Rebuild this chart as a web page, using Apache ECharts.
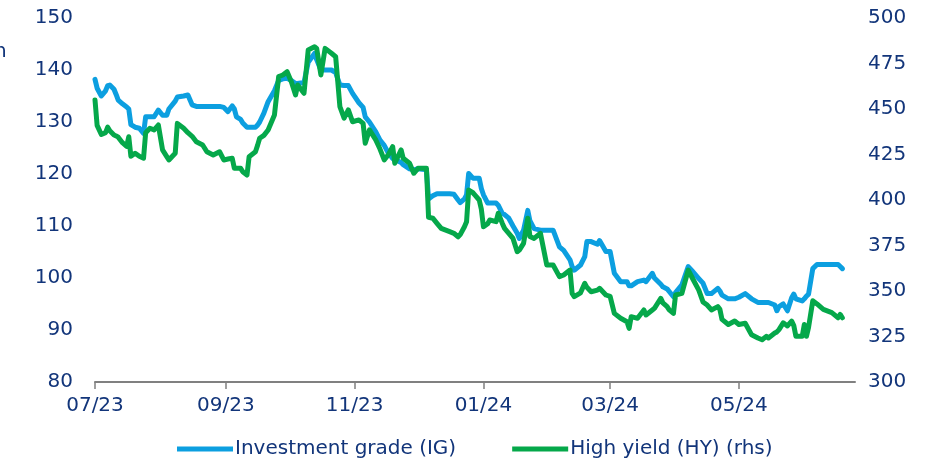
<!DOCTYPE html>
<html>
<head>
<meta charset="utf-8">
<script src="https://cdn.jsdelivr.net/npm/echarts@6/dist/echarts.min.js"></script>
<style>
  html, body { margin: 0; padding: 0; background: #fff; }
  #main { width: 932px; height: 461px; }
</style>
</head>
<body>
<div id="main"></div>
<script>
const dates = [
  '2023-07-01','2023-07-02','2023-07-04','2023-07-06','2023-07-07','2023-07-08','2023-07-10','2023-07-11','2023-07-12','2023-07-14',
  '2023-07-16','2023-07-17','2023-07-18','2023-07-20','2023-07-22','2023-07-24','2023-07-25','2023-07-27','2023-07-29','2023-07-31',
  '2023-08-02','2023-08-04','2023-08-05','2023-08-08','2023-08-09','2023-08-12','2023-08-14','2023-08-16','2023-08-18','2023-08-21',
  '2023-08-23','2023-08-26','2023-08-29','2023-08-31','2023-09-02','2023-09-04','2023-09-05','2023-09-06','2023-09-08','2023-09-09',
  '2023-09-11','2023-09-12','2023-09-15','2023-09-16','2023-09-17','2023-09-19','2023-09-21','2023-09-24','2023-09-26','2023-09-28',
  '2023-09-30','2023-10-02','2023-10-04','2023-10-05','2023-10-08','2023-10-10','2023-10-13','2023-10-14','2023-10-16','2023-10-18',
  '2023-10-21','2023-10-23','2023-10-25','2023-10-27','2023-10-29','2023-10-31','2023-11-03','2023-11-05','2023-11-06','2023-11-08',
  '2023-11-11','2023-11-13','2023-11-15','2023-11-17','2023-11-19','2023-11-20','2023-11-23','2023-11-24','2023-11-27','2023-11-29',
  '2023-12-01','2023-12-05','2023-12-06','2023-12-08','2023-12-10','2023-12-12','2023-12-16','2023-12-18','2023-12-20','2023-12-21',
  '2023-12-23','2023-12-24','2023-12-25','2023-12-27','2023-12-28','2023-12-30','2023-12-31','2024-01-01','2024-01-03','2024-01-04',
  '2024-01-07','2024-01-08','2024-01-10','2024-01-11','2024-01-13','2024-01-15','2024-01-17','2024-01-18','2024-01-20','2024-01-22',
  '2024-01-23','2024-01-25','2024-01-28','2024-01-31','2024-02-03','2024-02-06','2024-02-08','2024-02-11','2024-02-12','2024-02-13',
  '2024-02-16','2024-02-18','2024-02-19','2024-02-21','2024-02-24','2024-02-25','2024-02-28','2024-03-01','2024-03-03','2024-03-06',
  '2024-03-09','2024-03-10','2024-03-11','2024-03-14','2024-03-17','2024-03-18','2024-03-21','2024-03-22','2024-03-25','2024-03-26',
  '2024-03-28','2024-03-29','2024-03-31','2024-04-01','2024-04-04','2024-04-07','2024-04-09','2024-04-12','2024-04-14','2024-04-16',
  '2024-04-18','2024-04-21','2024-04-22','2024-04-23','2024-04-26','2024-04-29','2024-05-01','2024-05-04','2024-05-07','2024-05-10',
  '2024-05-12','2024-05-14','2024-05-15','2024-05-18','2024-05-19','2024-05-20','2024-05-22','2024-05-24','2024-05-26','2024-05-27',
  '2024-05-28','2024-05-31','2024-06-01','2024-06-02','2024-06-03','2024-06-05','2024-06-07','2024-06-10','2024-06-14','2024-06-17',
  '2024-06-18','2024-06-19'
];

// Investment grade (IG), left axis
const igValues = [
  138.2,136.5,135,136,137,137.1,136.3,135.3,134.2,133.5,
  132.9,132.5,129.5,129,128.8,127.8,131,131,131,132.3,
  131.3,131.3,132.5,134,134.8,135,135.2,133.3,133,133,
  133,133,133,132.8,132,133.1,132.5,131,130.5,129.8,
  129,129,129,129.4,130,131.7,133.9,136,138,138.3,
  138.4,138,137.4,137.4,137.6,141.5,143.2,142,140,140,
  140,139.5,137.1,137,137,135.5,133.7,132.8,131,130,
  128.1,126.5,125.5,124,123,122.8,122.2,121.8,121,120.8,
  121,120.8,115.2,115.8,116.2,116.2,116.2,116.1,115,114.5,
  115.2,116,120.1,119.2,119.2,119.2,117.2,116,114.4,114.4,
  114.4,114,112.4,112.2,111.5,110,108.6,107.6,109.2,113,
  111,109.5,109.2,109.2,109.2,106,105.3,103.5,102.2,101.5,
  102.5,104.1,107,107,106.5,107.2,105.1,105.1,100.9,99.3,
  99.3,98.5,98.5,99.3,99.6,99.3,100.9,100,98.8,98.3,
  97.9,97.4,96.4,97.2,98.7,102.2,101.3,99.9,99,97,
  97,98,97.5,96.7,96,96,96.3,97,96,95.3,
  95.3,95.3,95.3,94.8,93.7,94.5,95,93.7,96.2,96.9,
  96,95.6,96,96.5,96.9,101.8,102.6,102.6,102.6,102.6,
  102.2,101.8
];

// High yield (HY), right axis
const hyValues = [
  455,441,436,437,440,438,435.7,435.2,434.5,431.5,
  429.5,434.8,424,425.7,424,423,437,439.4,438.5,441.2,
  427.5,423.8,422,425.7,442.1,439.4,437,435,432,430.2,
  426.5,424.7,426.5,422,422.5,422.9,417.4,417.4,417.4,415.5,
  413.7,423.8,426.5,430,433.9,435.5,438.5,446.7,467.8,468.7,
  470.5,465,457.7,463.2,458.6,482.4,484.2,483.3,468.7,483.3,
  480.6,478.7,451.3,445,449.5,443,444,442.1,431.2,438.5,
  433,428,422,425,429.3,420.2,427.5,422.9,420.2,414.7,
  417.4,417.4,390.5,390,387.2,384.4,382.6,381.7,379.8,381,
  385.3,388,405.5,404,402.7,400,395,385.3,387,389,
  388.1,392.7,387,384.4,381.7,378.9,371.6,372.5,376.2,390,
  380,378.9,381.7,364.3,364.3,357.9,358.8,361.5,348.7,346.9,
  349,354.2,352,349.6,350.5,351.5,347.8,347,337.7,335,
  333.1,329.5,335.9,335,339.6,336.8,339.6,340.5,346,343.5,
  341.4,339.6,337.7,347.8,348.7,361.5,357,350.5,344,342.3,
  339.6,341.4,339.9,334.4,331.6,333.5,331.6,332.3,326,324.2,
  323.2,325.1,324.2,326.9,327.5,328.8,332.5,330.8,333.5,331,
  325.1,325.1,331.6,325.1,330,344.6,342.9,339.9,338.1,335.3,
  337.1,335.3
];

const tickDates = ['2023-07-01','2023-09-01','2023-11-01','2024-01-01','2024-03-01','2024-05-01'];
const seriesNames = ['Investment grade (IG)', 'High yield (HY) (rhs)'];

function toTime(s) {
  const p = s.split('-');
  return new Date(+p[0], +p[1] - 1, +p[2]).getTime();
}

const textColor = '#12357a';
const fontFamily = '"DejaVu Sans", "Liberation Sans", Arial, sans-serif';
const ticks = tickDates.map(toTime);

var myChart = echarts.init(document.getElementById('main'));

var option = {
  animation: false,
  textStyle: { fontFamily: fontFamily },
  grid: { left: 95, right: 77, top: 18, bottom: 79 },
  legend: {
    left: 172,
    top: 434,
    itemWidth: 56,
    itemHeight: 5,
    itemGap: 56,
    icon: 'rect',
    textStyle: { color: textColor, fontSize: 20, fontFamily: fontFamily, padding: [0, 0, 0, -3] },
    data: seriesNames
  },
  graphic: [{
    type: 'text',
    left: -6,
    top: 42,
    style: { text: 'n', fill: textColor, font: '20px ' + fontFamily }
  }],
  xAxis: {
    // dates drawn on a linear value scale (timestamps) so ticks can sit on month starts
    type: 'value',
    min: toTime('2023-07-01'),
    max: toTime('2024-06-25'),
    splitLine: { show: false },
    axisLine: { lineStyle: { color: '#808080', width: 2 } },
    axisTick: { show: true, customValues: ticks, length: 7, lineStyle: { color: '#808080', width: 1.5 } },
    axisLabel: {
      customValues: ticks,
      color: textColor,
      fontSize: 20,
      margin: 14,
      hideOverlap: false,
      formatter: function (v) {
        const d = new Date(v);
        const m = String(d.getMonth() + 1).padStart(2, '0');
        return m + '/' + String(d.getFullYear()).slice(2);
      }
    }
  },
  yAxis: [
    {
      type: 'value',
      min: 80, max: 150, interval: 10,
      splitLine: { show: false },
      axisLine: { show: false },
      axisTick: { show: false },
      axisLabel: { color: textColor, fontSize: 20, margin: 22 }
    },
    {
      type: 'value',
      min: 300, max: 500, interval: 25,
      splitLine: { show: false },
      axisLine: { show: false },
      axisTick: { show: false },
      axisLabel: { color: textColor, fontSize: 20, margin: 13 }
    }
  ],
  series: [
    {
      name: seriesNames[0],
      type: 'line',
      yAxisIndex: 0,
      showSymbol: false,
      symbol: 'none',
      color: '#0c9fe0',
      lineStyle: { width: 5, color: '#0c9fe0', cap: 'round', join: 'round' },
      data: dates.map((d, i) => [toTime(d), igValues[i]])
    },
    {
      name: seriesNames[1],
      type: 'line',
      yAxisIndex: 1,
      showSymbol: false,
      symbol: 'none',
      color: '#05a84a',
      lineStyle: { width: 5, color: '#05a84a', cap: 'round', join: 'round' },
      data: dates.map((d, i) => [toTime(d), hyValues[i]])
    }
  ]
};

option && myChart.setOption(option);
</script>
</body>
</html>
